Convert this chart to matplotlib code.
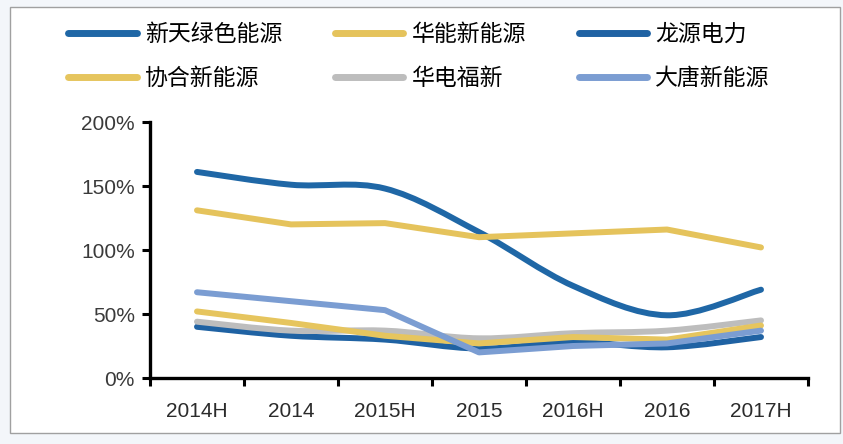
import numpy as np
import matplotlib.pyplot as plt
from matplotlib.path import Path
from matplotlib.patches import PathPatch, Rectangle
from matplotlib.lines import Line2D

plt.rcParams['font.family'] = ['Liberation Sans', 'Noto Sans CJK SC', 'DejaVu Sans']

# 数据（比率，1.0 = 100%）
periods = ["2014H", "2014", "2015H", "2015", "2016H", "2016", "2017H"]
xintian = [1.61, 1.51, 1.48, 1.14, 0.72, 0.49, 0.69]
huaneng = [1.31, 1.20, 1.21, 1.10, 1.13, 1.16, 1.02]
longyuan = [0.40, 0.33, 0.30, 0.23, 0.28, 0.24, 0.32]
xiehe = [0.52, 0.43, 0.33, 0.27, 0.32, 0.30, 0.41]
huadian = [0.44, 0.37, 0.37, 0.31, 0.35, 0.37, 0.45]
datang = [0.67, 0.60, 0.53, 0.20, 0.25, 0.27, 0.37]

names = ["新天绿色能源", "华能新能源", "龙源电力", "协合新能源", "华电福新", "大唐新能源"]
series = [xintian, huaneng, longyuan, xiehe, huadian, datang]
colors = ["#1F67A6", "#E5C35C", "#1F62A3", "#E6C55E", "#BDBDBD", "#7B9DD2"]
smooth = [True, False, True, False, True, False]


def smooth_path(xs, ys):
    # Excel 风格平滑线：Catmull-Rom 转贝塞尔
    pts = np.column_stack([xs, ys])
    verts = [pts[0]]
    codes = [Path.MOVETO]
    n = len(pts)
    for i in range(n - 1):
        p0 = pts[i - 1] if i > 0 else pts[i]
        p1 = pts[i]
        p2 = pts[i + 1]
        p3 = pts[i + 2] if i + 2 < n else pts[i + 1]
        c1 = p1 + (p2 - p0) / 6
        c2 = p2 - (p3 - p1) / 6
        verts += [c1, c2, p2]
        codes += [Path.CURVE4] * 3
    return Path(verts, codes)


fig = plt.figure(figsize=(8.43, 4.44), dpi=100, facecolor="#F3F6FA")
fig.patches.append(Rectangle((10 / 843, 11 / 444), 830 / 843, 426 / 444,
                             transform=fig.transFigure, facecolor="white",
                             edgecolor="#A0A0A0", linewidth=1.0, zorder=-10))

ax = fig.add_axes([150 / 843, 66 / 444, 658 / 843, 256 / 444])
ax.set_facecolor("none")

x = np.arange(len(periods))
handles = []
for name, ys, c, sm in zip(names, series, colors, smooth):
    if sm:
        ax.add_patch(PathPatch(smooth_path(x, ys), fill=False, edgecolor=c,
                               linewidth=4.3, capstyle="round", joinstyle="round"))
    else:
        ax.plot(x, ys, color=c, linewidth=4.3, solid_capstyle="round",
                solid_joinstyle="round")
    handles.append(Line2D([], [], color=c, linewidth=5, solid_capstyle="round"))

ax.set_xlim(-0.5, len(periods) - 0.5)
ax.set_ylim(0, 2.0)
ax.set_xticks(x)
ax.set_xticklabels(periods)
ax.set_xticks(np.arange(-0.5, len(periods), 1.0), minor=True)
ax.tick_params(axis="x", which="major", length=0, pad=17, labelsize=15,
               labelcolor="#2B2B2B")
ax.tick_params(axis="x", which="minor", length=6, width=2.2, direction="out")
ax.set_yticks([0, 0.5, 1.0, 1.5, 2.0])
ax.set_yticklabels(["0%", "50%", "100%", "150%", "200%"])
ax.tick_params(axis="y", length=6, width=2.2, direction="out", pad=5,
               labelsize=15, labelcolor="#3A3A3A")

for s in ["top", "right"]:
    ax.spines[s].set_visible(False)
for s in ["left", "bottom"]:
    ax.spines[s].set_linewidth(2.4)
    ax.spines[s].set_color("black")

# 图例按行排列
order = [0, 3, 1, 4, 2, 5]
fig.legend([handles[i] for i in order], [names[i] for i in order],
           loc="upper left", bbox_to_anchor=(68 / 843, 1 - 23 / 444),
           ncol=3, frameon=False, borderpad=0, borderaxespad=0,
           handlelength=3.0, handletextpad=0.35, columnspacing=2.3,
           labelspacing=0.9, prop={"family": ["Noto Sans CJK SC"], "size": 16.5})

fig.savefig("out.png", dpi=100, facecolor=fig.get_facecolor())
